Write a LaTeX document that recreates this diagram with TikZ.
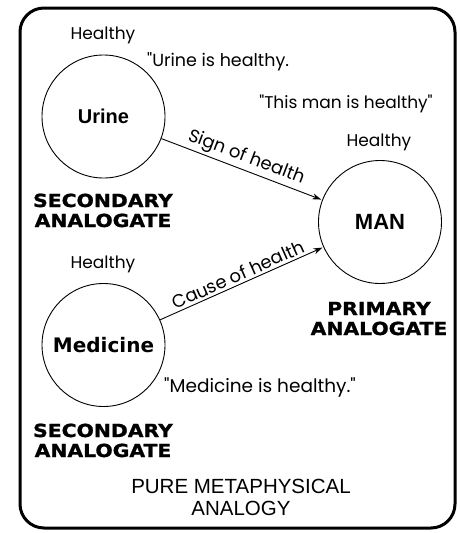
\documentclass[tikz,border=0pt]{standalone}
\usepackage{fontspec}
\usetikzlibrary{arrows.meta,positioning}
\newfontfamily\roundfont{Poppins}
\newfontfamily\plainfont{Liberation Sans}
\newfontfamily\widefont{DejaVu Sans}
\newfontfamily\heavyfont[FakeStretch=1.13, FakeBold=1.2]{DejaVu Sans}
\tikzset{
  thing/.style={circle, draw=black, line width=0.9pt, minimum size=123pt, inner sep=0pt, font=\plainfont\bfseries\fontsize{20}{20}\selectfont},
  word/.style={anchor=base, inner sep=0pt, font=\roundfont\fontsize{17}{17}\selectfont},
  rank/.style={anchor=base, inner sep=0pt, align=center, font=\heavyfont\bfseries\fontsize{18}{20}\selectfont},
  title/.style={anchor=base, inner sep=0pt, align=center, font=\plainfont\fontsize{20.5}{22}\selectfont},
  link/.style={-{Stealth[length=9pt,width=6pt]}, line width=0.9pt, shorten >=1pt},
}
\begin{document}
\begin{tikzpicture}[x=1pt,y=-1pt]
  \useasboundingbox (0,0) rectangle (460,533);
  \draw[line width=3pt, rounded corners=24pt] (20,8) rectangle (455,528);
  % the three analogates
  \node[thing] (urine) at (103.5,116.5) {Urine};
  \node[thing, font=\widefont\bfseries\fontsize{20}{20}\selectfont] (medicine) at (103.5,345) {Medicine};
  \node[thing, font=\plainfont\bfseries\fontsize{22}{22}\selectfont] (man) at (380,222) {MAN};
  % texts round them
  \node[word] (urinehealthy) at (103,39) {Healthy};
  \node[word, anchor=base west, font=\roundfont\fontsize{17.5}{17}\selectfont] (urinesays) at (147,66.5) {"Urine is healthy.};
  \node[word] (mansays) at (346,108) {"This man is healthy"};
  \node[word] (manhealthy) at (379,146.5) {Healthy};
  \node[rank] (secondtop) at (103,227) {SECONDARY\\ANALOGATE};
  \node[word] (medhealthy) at (103,268) {Healthy};
  \node[rank] (primary) at (379,335) {PRIMARY\\ANALOGATE};
  \node[word, anchor=base west, font=\roundfont\fontsize{18.5}{17}\selectfont] (medsays) at (164,392) {"Medicine is healthy."};
  \node[rank] (secondbottom) at (103,457) {SECONDARY\\ANALOGATE};
  \node[title] (kind) at (241,515) {PURE METAPHYSICAL\\ANALOGY};
  % relations
  \draw[link] (urine) -- node[word, anchor=south, sloped, inner sep=2.5pt, font=\roundfont\fontsize{18}{17}\selectfont]{Sign of health} (man);
  \draw[link] (medicine) -- node[word, anchor=south, sloped, inner sep=2.5pt, font=\roundfont\fontsize{18}{17}\selectfont]{Cause of health} (man);
\end{tikzpicture}
\end{document}
